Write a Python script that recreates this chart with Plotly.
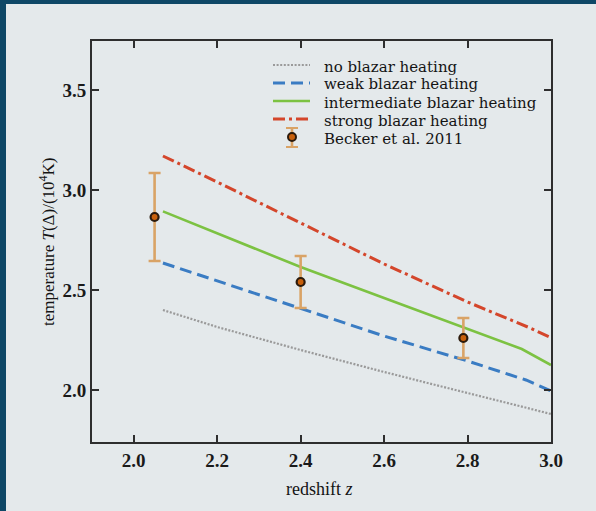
import plotly.graph_objects as go

# ---- model curves: IGM temperature at mean density vs redshift ----
z_none = [2.07, 2.2, 2.4, 2.6, 2.8, 3.0]
T_none = [2.40, 2.315, 2.20, 2.09, 1.985, 1.88]

z_weak = [2.07, 2.2, 2.4, 2.6, 2.8, 2.94, 3.0]
T_weak = [2.635, 2.545, 2.41, 2.27, 2.145, 2.05, 1.995]

z_inter = [2.07, 2.2, 2.4, 2.6, 2.8, 2.93, 3.0]
T_inter = [2.893, 2.785, 2.615, 2.46, 2.305, 2.205, 2.125]

z_strong = [2.07, 2.2, 2.4, 2.6, 2.8, 2.95, 3.0]
T_strong = [3.17, 3.04, 2.835, 2.63, 2.44, 2.31, 2.262]

# ---- measurements (Becker et al. 2011) ----
z_obs = [2.05, 2.4, 2.79]
T_obs = [2.865, 2.54, 2.26]
T_err = [0.22, 0.13, 0.10]

legend_labels = ["no blazar heating", "weak blazar heating",
                 "intermediate blazar heating", "strong blazar heating",
                 "Becker et al. 2011"]

x_ticks = [2.0, 2.2, 2.4, 2.6, 2.8, 3.0]
y_ticks = [2.0, 2.5, 3.0, 3.5]

# colours / styles
C_NONE, C_WEAK, C_INTER, C_STRONG = "#9a9a9a", "#3a7cc3", "#7cc242", "#d4462b"
C_ERR, C_PT_FILL, C_PT_EDGE = "#d9a366", "#c8600c", "#2b1a0c"
DASH = {"none": "2px,1.6px", "weak": "12px,6px", "inter": "solid",
        "strong": "12px,4px,3px,4px"}
WID = {"none": 2.2, "weak": 3, "inter": 2.6, "strong": 3}

W, H = 596, 511
L, R, T, B = 92, 551, 41, 442
SERIF = "Liberation Serif, Times New Roman, serif"
LEG_FONT = "DejaVu Serif, serif"
INK = "#141414"


def px(x):
    return (x - L) / (R - L)


def py(y):
    return (B - y) / (B - T)


fig = go.Figure()

curves = [("none", z_none, T_none, C_NONE), ("weak", z_weak, T_weak, C_WEAK),
          ("inter", z_inter, T_inter, C_INTER), ("strong", z_strong, T_strong, C_STRONG)]
for key, zz, tt, col in curves:
    fig.add_trace(go.Scatter(x=zz, y=tt, mode="lines", showlegend=False,
                             line=dict(color=col, width=WID[key], dash=DASH[key])))

fig.add_trace(go.Scatter(
    x=z_obs, y=T_obs, mode="markers", showlegend=False,
    error_y=dict(type="data", array=T_err, color=C_ERR, thickness=2.6, width=6),
    marker=dict(size=8, color=C_PT_FILL, line=dict(color=C_PT_EDGE, width=2.2))))

shapes = []
annotations = []

# legend key samples and labels
key_y = [65.0, 83.0, 101.0, 119.0, 137.0]
for (key, _, _, col), yk in zip(curves, key_y[:4]):
    shapes.append(dict(type="line", xref="paper", yref="paper",
                       x0=px(273), x1=px(310), y0=py(yk), y1=py(yk),
                       line=dict(color=col, width=WID[key], dash=DASH[key])))
# error-bar key
xk = 292
shapes.append(dict(type="line", xref="paper", yref="paper", x0=px(xk), x1=px(xk),
                   y0=py(128), y1=py(147), line=dict(color=C_ERR, width=2.6)))
for yc in (128, 147):
    shapes.append(dict(type="line", xref="paper", yref="paper", x0=px(xk - 6), x1=px(xk + 6),
                       y0=py(yc), y1=py(yc), line=dict(color=C_ERR, width=2)))
shapes.append(dict(type="circle", xref="paper", yref="paper",
                   x0=px(xk - 4), x1=px(xk + 4), y0=py(key_y[4] - 4), y1=py(key_y[4] + 4),
                   fillcolor=C_PT_FILL, line=dict(color=C_PT_EDGE, width=2)))

for lab, yk in zip(legend_labels, key_y):
    annotations.append(dict(text=lab, xref="paper", yref="paper", x=px(322), y=py(yk + 1.5),
                            xanchor="left", yanchor="middle", showarrow=False,
                            font=dict(family=LEG_FONT, size=15, color=INK)))

# axis titles
annotations.append(dict(text="redshift <i>z</i>", xref="paper", yref="paper",
                        x=px(319), y=py(489), xanchor="center", yanchor="middle",
                        showarrow=False, font=dict(family=SERIF, size=18, color=INK)))
annotations.append(dict(text="temperature <i>T</i>(Δ)/(10<sup>4</sup>K)", xref="paper", yref="paper",
                        x=px(47), y=py(242), xanchor="center", yanchor="middle", textangle=-90,
                        showarrow=False, font=dict(family=SERIF, size=17, color=INK)))

# slide frame edges
FRAME = "#0e4766"
shapes.append(dict(type="rect", xref="paper", yref="paper", x0=px(0), x1=px(6),
                   y0=py(W * 2), y1=py(-5), fillcolor=FRAME, line=dict(width=0), layer="above"))
shapes.append(dict(type="rect", xref="paper", yref="paper", x0=px(0), x1=px(W + 5),
                   y0=py(4), y1=py(-5), fillcolor=FRAME, line=dict(width=0), layer="above"))

axis_common = dict(showgrid=False, zeroline=False, showline=True, linecolor="#2e2e2e",
                   linewidth=2, mirror="ticks", ticks="inside", ticklen=7, tickwidth=2,
                   tickcolor="#2e2e2e",
                   tickfont=dict(family=SERIF, size=19, color="#1a1a1a", weight="bold"))

fig.update_layout(
    width=W, height=H,
    margin=dict(l=L, r=W - R, t=T, b=H - B),
    paper_bgcolor="#e4e9eb", plot_bgcolor="#e4e9eb",
    xaxis=dict(range=[1.9, 3.0], tickvals=x_ticks, ticktext=[f"{v:.1f}" for v in x_ticks],
               **axis_common),
    yaxis=dict(range=[1.74, 3.745], tickvals=y_ticks, ticktext=[f"{v:.1f}" for v in y_ticks],
               **axis_common),
    shapes=shapes, annotations=annotations, showlegend=False,
)

fig.write_html("out.html")
